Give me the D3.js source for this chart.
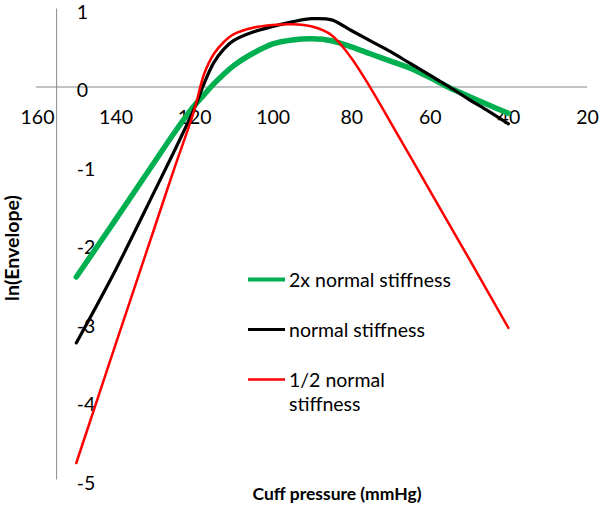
<!DOCTYPE html>
<html>
<head>
<meta charset="utf-8">
<script src="https://cdn.jsdelivr.net/npm/d3@7"></script>
<style>
  html, body { margin: 0; padding: 0; background: #fff; }
  svg { display: block; }
  text { font-family: Lato, "Open Sans", sans-serif; fill: #000; }
</style>
</head>
<body>
<svg id="chart" width="600" height="509"></svg>
<script>
// ---- data ----
const pressure2x = [150, 140, 130, 125, 120, 117.5, 115, 110, 105, 100, 95, 90, 85, 80, 75, 70, 65, 60, 55, 50, 45, 40];
const stiff2x    = [-2.42, -1.69, -0.95, -0.58, -0.24, -0.10, 0.04, 0.27, 0.43, 0.55, 0.60, 0.615, 0.59, 0.51, 0.42, 0.33, 0.24, 0.12, -0.01, -0.12, -0.23, -0.335];
const pressureN  = [150, 140, 130, 125, 120, 117.5, 115, 112.5, 110, 105, 100, 95, 90, 85, 80, 75, 70, 65, 60, 55, 50, 45, 40];
const stiffN     = [-3.26, -2.33, -1.32, -0.81, -0.28, 0.04, 0.31, 0.48, 0.59, 0.70, 0.77, 0.83, 0.87, 0.855, 0.72, 0.585, 0.45, 0.30, 0.15, 0.00, -0.16, -0.31, -0.47];
const pressureH  = [150, 140, 130, 125, 120, 117.5, 115, 112.5, 110, 105, 100, 95, 90, 85, 80, 75, 70, 60, 50, 40];
const stiffHalf  = [-4.79, -3.28, -1.78, -1.03, -0.30, 0.16, 0.42, 0.57, 0.67, 0.755, 0.79, 0.80, 0.77, 0.66, 0.37, -0.02, -0.45, -1.32, -2.19, -3.07];
const seriesNames = ["2x normal stiffness", "normal stiffness", "1/2 normal stiffness"];
const seriesColors = ["#00b050", "#000000", "#ff0000"];
const xTicks = [160, 140, 120, 100, 80, 60, 40, 20];
const yTicks = [1, 0, -1, -2, -3, -4, -5];

const series = [
  { name: seriesNames[0], color: seriesColors[0], w: 5.5, xs: pressure2x, ys: stiff2x },
  { name: seriesNames[1], color: seriesColors[1], w: 3.2, xs: pressureN, ys: stiffN },
  { name: seriesNames[2], color: seriesColors[2], w: 2.5, xs: pressureH, ys: stiffHalf }
];

const svg = d3.select("#chart");
const x = d3.scaleLinear().domain([160, 20]).range([37, 587]);
const y = d3.scaleLinear().domain([1, -5]).range([8.5, 479.5]);
const axisColor = "#868686";
const plain = d => String(d);

// axis lines
svg.append("line").attr("x1", x(160) - 1).attr("x2", x(20)).attr("y1", y(0)).attr("y2", y(0))
  .attr("stroke", axisColor).attr("stroke-width", 1);
svg.append("line").attr("x1", x(155)).attr("x2", x(155)).attr("y1", y(1)).attr("y2", y(-5))
  .attr("stroke", axisColor).attr("stroke-width", 1);

// x tick labels
const gx = svg.append("g").attr("transform", `translate(0,${y(0) + 23})`)
  .call(d3.axisBottom(x).tickValues(xTicks).tickSize(0).tickPadding(0).tickFormat(plain));
gx.select(".domain").remove();
gx.selectAll("text").attr("font-size", 19.5).attr("font-family", "Lato, sans-serif").attr("fill", "#000");

// y tick labels (to the right of the axis)
const gy = svg.append("g").attr("transform", `translate(${x(155) + 20},1.5)`)
  .call(d3.axisLeft(y).tickValues(yTicks).tickSize(0).tickPadding(0).tickFormat(plain));
gy.select(".domain").remove();
gy.selectAll("text").attr("text-anchor", "start").attr("dy", "0.42em").attr("x", 0)
  .attr("font-size", 19.5).attr("font-family", "Lato, sans-serif").attr("fill", "#000");

// lines
const line = d3.line().x(d => x(d[0])).y(d => y(d[1])).curve(d3.curveCatmullRom.alpha(0.5));
series.forEach(s => {
  svg.append("path").datum(s.xs.map((v, i) => [v, s.ys[i]]))
    .attr("d", line).attr("fill", "none").attr("stroke", s.color)
    .attr("stroke-width", s.w).attr("stroke-linecap", "round").attr("stroke-linejoin", "round");
});

// legend
const legY = [279.5, 329.5, 379.5];
const legW = [4, 3, 2.7];
series.forEach((s, i) => {
  svg.append("line").attr("x1", 248).attr("x2", 285).attr("y1", legY[i]).attr("y2", legY[i])
    .attr("stroke", s.color).attr("stroke-width", legW[i]);
});
svg.append("text").attr("x", 289).attr("y", 286.5).attr("font-size", 19.5).text(seriesNames[0]);
svg.append("text").attr("x", 289).attr("y", 336.5).attr("font-size", 19.5).text(seriesNames[1]);
svg.append("text").attr("x", 289).attr("y", 386.5).attr("font-size", 19.5).text("1/2 normal");
svg.append("text").attr("x", 289).attr("y", 410.5).attr("font-size", 19.5).text("stiffness");

// axis titles
svg.append("text").attr("x", 337).attr("y", 500).attr("text-anchor", "middle")
  .attr("font-size", 17.5).attr("font-weight", "bold").text("Cuff pressure (mmHg)");
svg.append("text").attr("transform", "translate(19,248) rotate(-90)").attr("text-anchor", "middle")
  .attr("font-size", 19.5).attr("font-weight", "bold").text("ln(Envelope)");
</script>
</body>
</html>
